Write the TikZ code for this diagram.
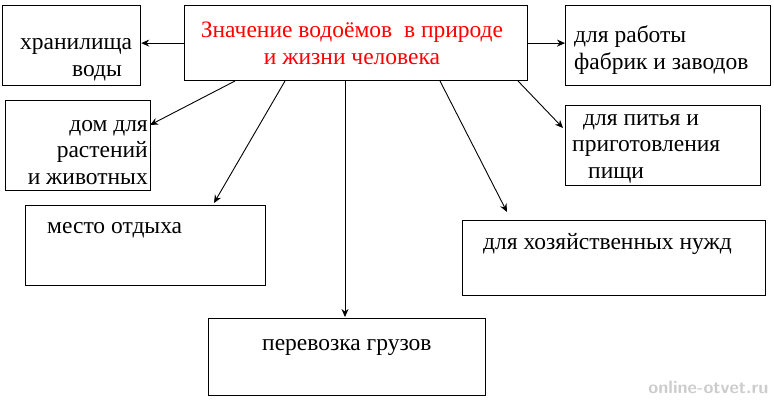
\documentclass[tikz,border=0pt]{standalone}
\usepackage{fontspec}
\setmainfont{Liberation Serif}
\usetikzlibrary{arrows.meta}
\begin{document}
\begin{tikzpicture}[x=1pt,y=-1pt,
  box/.style={draw,line width=1.2pt,anchor=north west,inner sep=0pt},
  txt/.style={font=\fontsize{23.5}{26.5}\selectfont,align=left,inner sep=0pt,anchor=base west},
  arr/.style={-{Stealth[length=8pt,width=7pt]},line width=0.9pt}]
\useasboundingbox (0,0) rectangle (774,400);
\node[box,minimum width=343,minimum height=75] (c) at (184,5) {};
\node[box,minimum width=138,minimum height=80] (a) at (2,5) {};
\node[box,minimum width=205,minimum height=80] (b) at (565,5) {};
\node[box,minimum width=145,minimum height=90] (d) at (5,100) {};
\node[box,minimum width=195,minimum height=80] (e) at (565,105) {};
\node[box,minimum width=240,minimum height=80] (f) at (25,205) {};
\node[box,minimum width=303,minimum height=75] (g) at (462,220) {};
\node[box,minimum width=277,minimum height=77] (h) at (208,318) {};
\node[txt,red,align=center,anchor=base] (ct) at (352,64) {Значение водоёмов\ \ в природе\\и жизни человека};
\node[txt] (at) at (20,76) {хранилища\\\hspace*{52pt}воды};
\node[txt] (bt) at (574,69) {для работы\\фабрик и заводов};
\node[txt,align=right,anchor=base east] (dt) at (148,184) {дом для\\растений\\и животных};
\node[txt] (et) at (572,178) {\hspace*{11pt}для питья и\\приготовления\\\hspace*{16pt}пищи};
\node[txt] (ft) at (47,233) {место отдыха};
\node[txt] (gt) at (483,249) {для хозяйственных нужд};
\node[txt] (ht) at (262,350) {перевозка грузов};
\node[font=\fontsize{18}{20}\selectfont\sffamily\bfseries,text=gray!40,anchor=south east] (w) at (772,397) {online-otvet.ru};
\coordinate (c1) at (235,81);
\coordinate (c2) at (285,81);
\coordinate (c3) at (345,81);
\coordinate (c4) at (440,81);
\coordinate (c5) at (518,81);
\coordinate (t1) at (150,125);
\coordinate (t2) at (214,203);
\coordinate (t3) at (345,317);
\coordinate (t4) at (507,212);
\coordinate (t5) at (563,128);
\draw[arr] (c.west) -- (a.east |- c.west);
\draw[arr] (c.east) -- (b.west |- c.east);
\draw[arr] (c1) -- (t1);
\draw[arr] (c2) -- (t2);
\draw[arr] (c3) -- (t3);
\draw[arr] (c4) -- (t4);
\draw[arr] (c5) -- (t5);
\end{tikzpicture}
\end{document}
